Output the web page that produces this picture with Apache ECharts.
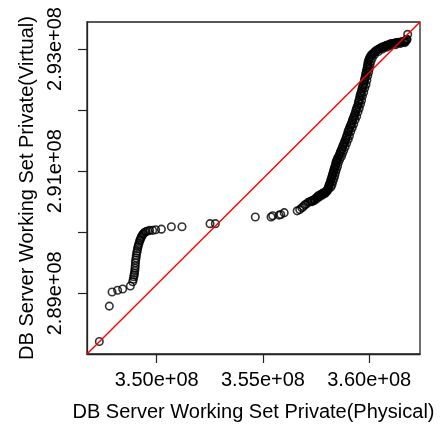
<!DOCTYPE html>
<html>
<head>
<meta charset="utf-8">
<script src="https://cdn.jsdelivr.net/npm/echarts@6/dist/echarts.min.js"></script>
<style>html,body{margin:0;padding:0;background:#fff}#c{width:447px;height:432px}</style>
</head>
<body>
<div id="c"></div>
<script>
// Quantiles: Physical (x) and Virtual (y), in bytes
const physical = [
347.30e6,347.77e6,347.90e6,348.16e6,348.40e6,348.76e6,348.87e6,348.90e6,348.92e6,348.94e6,348.95e6,348.97e6,348.98e6,348.99e6,349.00e6,349.01e6,349.03e6,349.04e6,349.06e6,349.08e6,349.10e6,349.12e6,349.14e6,349.17e6,349.20e6,349.23e6,349.26e6,349.29e6,349.32e6,349.36e6,349.39e6,349.44e6,349.50e6,349.58e6,349.67e6,349.81e6,349.95e6,350.22e6,350.69e6,351.19e6,352.51e6,352.76e6,354.64e6,355.38e6,355.46e6,355.76e6,355.84e6,356.00e6,356.61e6,356.73e6,356.83e6,356.90e6,356.97e6,357.04e6,357.13e6,
357.21e6,357.27e6,357.33e6,357.39e6,357.44e6,357.50e6,357.55e6,357.58e6,357.63e6,357.68e6,357.73e6,357.78e6,357.83e6,357.88e6,357.93e6,357.96e6,
358.00e6,358.03e6,358.05e6,358.08e6,358.10e6,358.13e6,358.15e6,358.17e6,358.19e6,358.22e6,
358.24e6,358.26e6,358.28e6,358.30e6,358.32e6,358.34e6,358.36e6,358.39e6,358.41e6,358.43e6,358.45e6,358.48e6,
358.51e6,358.55e6,358.59e6,358.62e6,358.64e6,358.67e6,358.70e6,358.74e6,358.77e6,358.81e6,358.84e6,358.88e6,
358.91e6,358.94e6,358.97e6,359.00e6,359.03e6,359.07e6,359.10e6,359.14e6,359.17e6,359.21e6,359.24e6,359.28e6,
359.31e6,359.34e6,359.37e6,359.40e6,359.43e6,359.47e6,359.49e6,359.51e6,359.54e6,359.56e6,359.58e6,359.61e6,
359.64e6,359.66e6,359.69e6,359.72e6,359.75e6,359.77e6,359.79e6,359.81e6,359.83e6,359.85e6,359.87e6,359.89e6,
359.91e6,359.93e6,359.94e6,359.95e6,359.98e6,360.01e6,360.04e6,360.08e6,
360.12e6,360.17e6,360.22e6,360.27e6,360.31e6,360.36e6,360.41e6,360.46e6,360.51e6,360.56e6,360.61e6,360.66e6,
360.71e6,360.76e6,360.81e6,360.86e6,360.92e6,360.97e6,361.02e6,361.07e6,361.12e6,361.17e6,361.22e6,361.27e6,361.33e6,361.40e6,
361.45e6,361.50e6,361.56e6,361.62e6,361.67e6,361.73e6,361.76e6,361.78e6,361.81e6,
// second strand of the dense band
357.30e6,357.42e6,357.55e6,357.68e6,357.80e6,357.92e6,358.02e6,358.10e6,
358.20e6,358.25e6,358.29e6,358.34e6,358.38e6,358.42e6,358.46e6,358.51e6,358.55e6,358.61e6,358.69e6,358.74e6,
358.80e6,358.87e6,358.94e6,359.01e6,359.07e6,359.13e6,359.20e6,359.27e6,359.34e6,359.41e6,359.47e6,359.53e6,
359.59e6,359.64e6,359.68e6,359.74e6,359.79e6,359.85e6,359.89e6,359.93e6,359.97e6,360.01e6,360.04e6,360.08e6,360.14e6,
360.25e6,360.43e6,360.62e6,360.82e6,361.03e6,361.23e6,361.46e6,361.68e6
];
const virtual = [
288.21e6,288.79e6,289.02e6,289.05e6,289.07e6,289.12e6,289.19e6,289.23e6,289.27e6,289.30e6,289.33e6,289.37e6,289.41e6,289.45e6,289.50e6,289.54e6,289.58e6,289.62e6,289.66e6,289.69e6,289.73e6,289.76e6,289.79e6,289.82e6,289.86e6,289.88e6,289.91e6,289.93e6,289.95e6,289.97e6,289.98e6,290.00e6,290.01e6,290.02e6,290.03e6,290.03e6,290.04e6,290.05e6,290.09e6,290.09e6,290.14e6,290.14e6,290.25e6,290.25e6,290.27e6,290.28e6,290.29e6,290.32e6,290.35e6,290.37e6,290.40e6,290.42e6,290.45e6,290.46e6,290.49e6,
290.50e6,290.51e6,290.52e6,290.53e6,290.54e6,290.56e6,290.57e6,290.59e6,290.60e6,290.61e6,290.62e6,290.63e6,290.64e6,290.65e6,290.65e6,290.66e6,
290.68e6,290.70e6,290.71e6,290.73e6,290.76e6,290.78e6,290.80e6,290.82e6,290.85e6,290.87e6,
290.90e6,290.92e6,290.95e6,290.97e6,291.00e6,291.02e6,291.05e6,291.07e6,291.10e6,291.13e6,291.16e6,291.18e6,
291.21e6,291.23e6,291.26e6,291.28e6,291.31e6,291.33e6,291.36e6,291.39e6,291.42e6,291.45e6,291.48e6,291.51e6,
291.54e6,291.57e6,291.60e6,291.64e6,291.67e6,291.70e6,291.73e6,291.76e6,291.79e6,291.83e6,291.86e6,291.89e6,
291.92e6,291.95e6,291.99e6,292.02e6,292.05e6,292.08e6,292.12e6,292.15e6,292.18e6,292.22e6,292.25e6,292.28e6,
292.31e6,292.35e6,292.38e6,292.41e6,292.44e6,292.48e6,292.51e6,292.54e6,292.58e6,292.61e6,292.64e6,292.67e6,
292.70e6,292.73e6,292.76e6,292.79e6,292.82e6,292.84e6,292.87e6,292.89e6,
292.91e6,292.92e6,292.94e6,292.95e6,292.97e6,292.98e6,292.99e6,293.00e6,293.01e6,293.02e6,293.03e6,293.03e6,
293.04e6,293.05e6,293.06e6,293.06e6,293.07e6,293.08e6,293.08e6,293.09e6,293.09e6,293.09e6,293.10e6,293.10e6,293.10e6,293.11e6,
293.11e6,293.11e6,293.12e6,293.12e6,293.13e6,293.13e6,293.15e6,293.16e6,293.24e6,
// second strand of the dense band
290.50e6,290.52e6,290.55e6,290.585e6,290.61e6,290.635e6,290.67e6,290.71e6,
290.74e6,290.78e6,290.83e6,290.88e6,290.93e6,290.98e6,291.03e6,291.08e6,291.14e6,291.19e6,291.24e6,291.29e6,
291.34e6,291.40e6,291.46e6,291.52e6,291.58e6,291.65e6,291.71e6,291.77e6,291.84e6,291.90e6,291.97e6,292.03e6,
292.10e6,292.16e6,292.23e6,292.29e6,292.36e6,292.42e6,292.49e6,292.56e6,292.62e6,292.68e6,292.74e6,292.80e6,292.85e6,
292.91e6,292.96e6,293.00e6,293.03e6,293.06e6,293.07e6,293.09e6,293.105e6
];
const xTicks = [350e6, 355e6, 360e6];
const yTicks = [289e6, 290e6, 291e6, 292e6, 293e6];
const yLabelled = [289e6, 291e6, 293e6];
const xTitle = 'DB Server Working Set Private(Physical)';
const yTitle = 'DB Server Working Set Private(Virtual)';

// plotting region (data range extended by 4% each side, as in R)
const xMin = 346.72e6, xMax = 362.39e6;
const yMin = 288.006e6, yMax = 293.442e6;

const points = physical.map((v, i) => [v, virtual[i]]);
const fmt = v => (v / 1e8).toFixed(2) + 'e+08';
const FONT = 'Liberation Sans, Arial, Helvetica, sans-serif';

const chart = echarts.init(document.getElementById('c'), null, {renderer: 'canvas'});
chart.setOption({
  animation: false,
  backgroundColor: '#fff',
  textStyle: {fontFamily: FONT},
  grid: {left: 87, top: 22, right: 27, bottom: 78, show: true, borderColor: '#222', borderWidth: 1.3, backgroundColor: 'transparent'},
  xAxis: {
    type: 'value', min: xMin, max: xMax,
    name: xTitle, nameLocation: 'middle', nameGap: 48,
    nameTextStyle: {fontSize: 20, color: '#000', fontFamily: FONT},
    axisLine: {show: true, lineStyle: {color: '#222', width: 1.3}},
    axisTick: {show: true, length: 9, lineStyle: {color: '#222', width: 1.2}, customValues: xTicks},
    axisLabel: {fontSize: 20, color: '#000', margin: 16, fontFamily: FONT, customValues: xTicks, formatter: fmt},
    splitLine: {show: false}
  },
  yAxis: {
    type: 'value', min: yMin, max: yMax,
    name: yTitle, nameLocation: 'middle', nameGap: 46, nameRotate: 90,
    nameTextStyle: {fontSize: 20, color: '#000', fontFamily: FONT},
    axisLine: {show: true, lineStyle: {color: '#222', width: 1.3}},
    axisTick: {show: true, length: 9, lineStyle: {color: '#222', width: 1.2}, customValues: yTicks},
    axisLabel: {fontSize: 20, color: '#000', margin: 22, rotate: 90, fontFamily: FONT, customValues: yLabelled, formatter: fmt},
    splitLine: {show: false}
  },
  series: [
    {
      type: 'scatter', data: points, symbol: 'circle', symbolSize: 7.5,
      itemStyle: {color: 'rgba(0,0,0,0)', borderColor: '#000', borderWidth: 1.6},
      emphasis: {disabled: true}, z: 2
    },
    {
      type: 'line', data: [[xMin, yMin], [xMax, yMax]], symbol: 'none',
      lineStyle: {color: '#ff0000', width: 1.4}, z: 3, silent: true
    }
  ]
});
</script>
</body>
</html>
